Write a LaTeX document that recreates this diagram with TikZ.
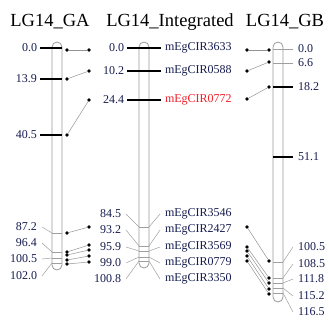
\documentclass[tikz,border=0pt]{standalone}
\usepackage{fontspec}
\setmainfont{Liberation Serif}
\usepackage{xcolor}
\usetikzlibrary{positioning}
\definecolor{mapnavy}{RGB}{22,28,78}
\definecolor{mapred}{RGB}{240,30,40}

\begin{document}
\begin{tikzpicture}[
    x=1pt, y=-1pt,
    title/.style={anchor=base, inner sep=0pt, font=\fontsize{18.5}{18.5}\selectfont},
    num/.style={inner sep=0pt, outer xsep=5pt, text=mapnavy, font=\fontsize{12}{12}\selectfont},
    marker/.style={num, anchor=west},
    chrom/.style={draw=gray!80, line width=0.8pt, rounded corners=5pt, minimum width=10pt, inner sep=0pt},
    bold tick/.style={line width=1.3pt, black},
    thin tick/.style={line width=0.6pt, gray!75},
    lead/.style={line width=0.5pt, gray!75},
    link/.style={line width=0.5pt, gray!85},
    dot/.style={circle, fill=black, inner sep=0pt, minimum size=3.6pt}
]
\useasboundingbox (0,0) rectangle (329,322);

% titles
\node[title] (tga) at (50,26) {LG14\_GA};
\node[title] (tint) at (170,26) {LG14\_Integrated};
\node[title] (tgb) at (285,26) {LG14\_GB};

% chromosomes
\node[chrom, minimum height=228pt] (ga) at (57,156) {};
\node[chrom, minimum height=226pt] (int) at (144,155) {};
\node[chrom, minimum height=260pt] (gb) at (278,172) {};

% LG14_GA
\foreach \y/\v [count=\i] in {48/0.0, 79/13.9, 135/40.5} {
    \coordinate (gas\i) at (40,\y);
    \draw[bold tick] (gas\i) -- (62,\y);
    \node[num, anchor=east, outer xsep=0pt] (gal\i) at (37,\y) {\v};
}
\foreach \t/\v/\y [count=\i] in {233/87.2/227, 252/96.4/243, 258/100.5/259, 263/102.0/276} {
    \coordinate (gat\i) at (52,\t);
    \draw[thin tick] (gat\i) -- (62,\t);
    \node[num, anchor=east] (gan\i) at (42,\y) {\v};
    \draw[lead] (gan\i.east) -- (gat\i);
}

% LG14_Integrated
\foreach \y/\v/\m/\c [count=\i] in {48/0.0/3633/mapnavy, 71/10.2/0588/mapnavy, 100/24.4/0772/mapred} {
    \coordinate (ins\i) at (127,\y);
    \draw[bold tick] (ins\i) -- (161,\y);
    \node[num, anchor=east, outer xsep=0pt] (inl\i) at (124,\y) {\v};
    \node[marker, outer xsep=0pt, text=\c] (inm\i) at (165,\y) {mEgCIR\m};
}
\foreach \t/\v/\m/\y [count=\i] in {227/84.5/3546/214, 246/93.2/2427/230, 251/95.9/3569/247, 257/99.0/0779/263, 261/100.8/3350/279} {
    \coordinate (intl\i) at (139,\t);
    \coordinate (intr\i) at (149,\t);
    \draw[thin tick] (intl\i) -- (intr\i);
    \node[num, anchor=east] (inn\i) at (126,\y) {\v};
    \node[marker] (ink\i) at (160,\y) {mEgCIR\m};
    \draw[lead] (inn\i.east) -- (intl\i);
    \draw[lead] (intr\i) -- (ink\i.west);
}

% LG14_GB
\foreach \y/\v/\s [count=\i] in {49/0.0/thin tick, 63/6.6/thin tick, 87/18.2/bold tick, 157/51.1/bold tick} {
    \coordinate (gbs\i) at (273,\y);
    \draw[\s] (gbs\i) -- (293,\y);
    \node[num, anchor=west, outer xsep=0pt] (gbl\i) at (298,\y) {\v};
}
\foreach \t/\v/\y [count=\i] in {262/100.5/247, 278/108.5/264, 283/111.8/279, 288/115.2/296, 293/116.5/312} {
    \coordinate (gbt\i) at (283,\t);
    \draw[thin tick] (273,\t) -- (gbt\i);
    \node[num, anchor=west] (gbn\i) at (293,\y) {\v};
    \draw[lead] (gbt\i) -- (gbn\i.west);
}

% links GA - Integrated
\foreach \l/\r [count=\i] in {50/50, 79/71, 135/100, 233/227, 252/245, 255/250, 260/256, 264/262} {
    \node[dot] (al\i) at (67,\l) {};
    \node[dot] (ar\i) at (89,\r) {};
    \draw[link] (al\i) -- (ar\i);
}

% links Integrated - GB
\foreach \l/\r [count=\i] in {50/50, 71/62, 99/87, 227/261, 247/278, 251/283, 256/289, 261/294} {
    \node[dot] (bl\i) at (247,\l) {};
    \node[dot] (br\i) at (269,\r) {};
    \draw[link] (bl\i) -- (br\i);
}
\end{tikzpicture}
\end{document}
